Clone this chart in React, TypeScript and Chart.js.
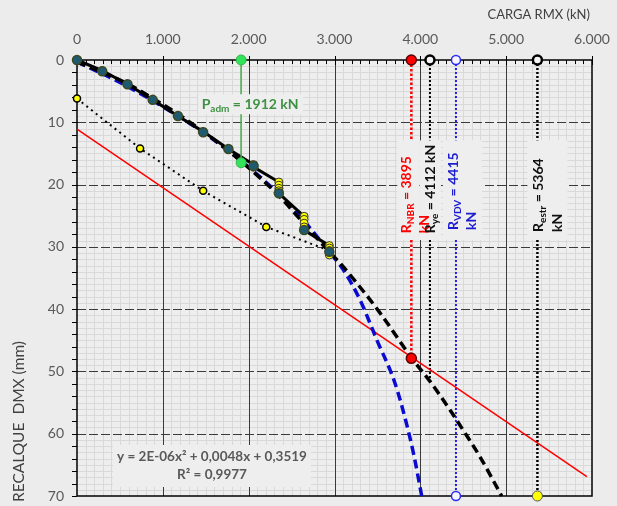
import React, { useEffect, useRef } from 'react';
import { Chart, registerables } from 'chart.js';
Chart.register(...registerables);

const FONT = 'Lato, "Open Sans", sans-serif';
const PAGE_BG = '#ececec';

// ---- tick labels ----
const xTickLabels = ['0', '1.000', '2.000', '3.000', '4.000', '5.000', '6.000'];
const yTickLabels = ['0', '10', '20', '30', '40', '50', '60', '70'];

// ---- load test readings (kN, mm) ----
const readingLoads = [0, 294, 588, 882, 1176, 1470, 1764, 2058, 2058, 2352, 2352, 2352, 2352, 2352, 2646, 2646, 2646, 2646, 2646, 2940, 2940, 2940, 2940, 2940];
const readingSettlements = [0, 1.7, 3.9, 6.4, 9.0, 11.5, 14.3, 16.8, 17.2, 19.6, 20.1, 20.6, 21.0, 21.4, 25.1, 25.6, 26.2, 26.8, 27.3, 29.8, 30.2, 30.6, 31.0, 31.3];

// ---- stage end points ----
const stageLoads = [0, 294, 588, 882, 1176, 1470, 1764, 2058, 2352, 2646, 2940];
const stageSettlements = [0, 1.8, 3.9, 6.4, 9.0, 11.6, 14.3, 17.0, 21.4, 27.3, 30.8];

// ---- elastic (dotted) line ----
const elasticLoads = [0, 735, 1470, 2205, 2940];
const elasticSettlements = [6.2, 14.2, 21.0, 26.8, 30.6];

// ---- NBR straight line ----
const nbrLoads = [0, 5940];
const nbrSettlements = [11.1, 66.9];

// ---- quadratic fit curve (black dashed) ----
const fitLoads = [0, 300, 600, 900, 1200, 1500, 1800, 2058, 2352, 2646, 2940, 3064, 3259, 3530, 3918, 4113, 4346, 4521, 4695, 4948];
const fitSettlements = [0.35, 2.0, 3.9, 6.3, 8.9, 11.8, 15.0, 18.0, 21.8, 26.3, 30.8, 32.6, 35.8, 40.6, 48.2, 51.6, 56.2, 59.9, 63.7, 70];

// ---- Van der Veen curve (blue dashed) ----
const vdvLoads = [0, 500, 1000, 1500, 2000, 2500, 2940, 3103, 3297, 3492, 3705, 3841, 3930, 4016];
const vdvSettlements = [0.3, 3.6, 7.5, 11.9, 17.2, 23.6, 30.8, 33.7, 38.5, 44.9, 51.9, 58.5, 63.8, 70];

// ---- reference loads ----
const pAdm = 1912;
const pAdmSettlement = 16.5;
const rNbr = 3895;
const rNbrSettlement = 47.9;
const rYe = 4112;
const rYeSettlement = 51.6;
const rVdv = 4415;
const rEstr = 5364;
const yMax = 70;

const eqLine1 = 'y = 2E-06x² + 0,0048x + 0,3519';
const eqLine2 = 'R² = 0,9977';

const pts = (xs: number[], ys: number[]) => xs.map((x, i) => ({ x, y: ys[i] }));

type Seg = { t: string; sub?: boolean };

function drawRich(ctx: CanvasRenderingContext2D, segs: Seg[], x: number, y: number, size: number, color: string, align: 'left' | 'center') {
  const main = `bold ${size}px ${FONT}`;
  const small = `bold ${Math.round(size * 0.68)}px ${FONT}`;
  let w = 0;
  for (const s of segs) {
    ctx.font = s.sub ? small : main;
    w += ctx.measureText(s.t).width;
  }
  let cx = align === 'center' ? x - w / 2 : x;
  ctx.fillStyle = color;
  ctx.textBaseline = 'middle';
  ctx.textAlign = 'left';
  for (const s of segs) {
    ctx.font = s.sub ? small : main;
    ctx.fillText(s.t, cx, y + (s.sub ? size * 0.3 : 0));
    cx += ctx.measureText(s.t).width;
  }
  return w;
}

function drawRotated(ctx: CanvasRenderingContext2D, lines: Seg[][], cxs: number[], startY: number, size: number, color: string) {
  lines.forEach((segs, i) => {
    ctx.save();
    ctx.translate(cxs[i], startY);
    ctx.rotate(-Math.PI / 2);
    drawRich(ctx, segs, 0, 0, size, color, 'left');
    ctx.restore();
  });
}

const customPlugin = {
  id: 'customDecor',
  beforeDraw(chart: any) {
    const ctx = chart.ctx as CanvasRenderingContext2D;
    ctx.save();
    ctx.fillStyle = PAGE_BG;
    ctx.fillRect(0, 0, chart.width, chart.height);
    ctx.restore();
  },
  beforeDatasetsDraw(chart: any) {
    const ctx = chart.ctx as CanvasRenderingContext2D;
    const a = chart.chartArea;
    const xs = chart.scales.x;
    const ys = chart.scales.y;
    ctx.save();
    ctx.fillStyle = '#eeeeee';
    ctx.fillRect(a.left, a.top, a.right - a.left, a.bottom - a.top);
    // minor grid
    ctx.strokeStyle = '#d9d9d9';
    ctx.lineWidth = 1;
    ctx.beginPath();
    for (let v = 100; v < 6000; v += 100) {
      if (v % 1000 === 0) continue;
      const px = Math.round(xs.getPixelForValue(v)) + 0.5;
      ctx.moveTo(px, a.top);
      ctx.lineTo(px, a.bottom);
    }
    for (let v = 1; v < 70; v += 1) {
      if (v % 10 === 0) continue;
      const py = Math.round(ys.getPixelForValue(v)) + 0.5;
      ctx.moveTo(a.left, py);
      ctx.lineTo(a.right, py);
    }
    ctx.stroke();
    // major vertical
    ctx.strokeStyle = '#3a3a3a';
    ctx.lineWidth = 1;
    ctx.beginPath();
    for (let v = 1000; v < 6000; v += 1000) {
      const px = Math.round(xs.getPixelForValue(v)) + 0.5;
      ctx.moveTo(px, a.top);
      ctx.lineTo(px, a.bottom);
    }
    ctx.stroke();
    // major horizontal dashed
    ctx.setLineDash([9, 3]);
    ctx.lineWidth = 1.2;
    ctx.beginPath();
    for (let v = 10; v < 70; v += 10) {
      const py = Math.round(ys.getPixelForValue(v)) + 0.5;
      ctx.moveTo(a.left, py);
      ctx.lineTo(a.right, py);
    }
    ctx.stroke();
    ctx.setLineDash([]);
    // frame
    ctx.strokeStyle = '#000';
    ctx.lineWidth = 1.5;
    ctx.strokeRect(a.left, a.top, a.right - a.left, a.bottom - a.top);
    // ticks
    ctx.lineWidth = 1;
    ctx.beginPath();
    for (let v = 0; v <= 6000; v += 100) {
      const px = Math.round(xs.getPixelForValue(v)) + 0.5;
      const major = v % 1000 === 0;
      ctx.moveTo(px, a.top - (major ? 4 : 0));
      ctx.lineTo(px, a.top + (major ? 5 : 4));
    }
    for (let v = 0; v <= 70; v += 2) {
      const py = Math.round(ys.getPixelForValue(v)) + 0.5;
      ctx.moveTo(a.left - 5, py);
      ctx.lineTo(a.left, py);
    }
    ctx.stroke();
    ctx.restore();
  },
  afterDatasetsDraw(chart: any) {
    const ctx = chart.ctx as CanvasRenderingContext2D;
    const xs = chart.scales.x;
    const ys = chart.scales.y;
    const box = '#eeeeee';
    ctx.save();
    // P_adm label
    const gx = xs.getPixelForValue(pAdm);
    const gy = ys.getPixelForValue(7.1);
    ctx.fillStyle = box;
    ctx.fillRect(gx - 43, gy - 10, 105, 20);
    drawRich(ctx, [{ t: 'P' }, { t: 'adm', sub: true }, { t: ` = ${pAdm} kN` }], gx + 9, gy, 14, '#3f9142', 'center');

    // rotated labels
    const top = ys.getPixelForValue(12.9);
    const bot = ys.getPixelForValue(28.9);
    const xN = xs.getPixelForValue(rNbr);
    const xY = xs.getPixelForValue(rYe);
    const xV = xs.getPixelForValue(rVdv);
    const xE = xs.getPixelForValue(rEstr);
    ctx.fillStyle = box;
    ctx.fillRect(xN - 14, top, 22, bot - top);
    ctx.fillRect(xY - 10, top, 21, bot - top);
    ctx.fillRect(xV - 13, top, 39, bot - top);
    ctx.fillRect(xE - 10, top, 40, bot - top);
    const sy = ys.getPixelForValue(27.8);
    drawRotated(ctx, [[{ t: 'R' }, { t: 'NBR', sub: true }, { t: ` = ${rNbr}` }], [{ t: 'kN' }]], [xN - 5, xN + 13], sy, 14, '#ff0000');
    drawRotated(ctx, [[{ t: 'R' }, { t: 'ye', sub: true }, { t: ` = ${rYe} kN` }]], [xY + 1], sy, 14, '#111111');
    drawRotated(ctx, [[{ t: 'R' }, { t: 'VDV', sub: true }, { t: ` = ${rVdv}` }], [{ t: 'kN' }]], [xV - 2, xV + 16], ys.getPixelForValue(27.3), 14, '#1c1cd0');
    drawRotated(ctx, [[{ t: 'R' }, { t: 'estr', sub: true }, { t: ` = ${rEstr}` }], [{ t: 'kN' }]], [xE + 1, xE + 20], ys.getPixelForValue(27.6), 14, '#111111');

    // equation box
    ctx.fillStyle = box;
    ctx.fillRect(113, 445, 198, 42);
    ctx.fillStyle = '#595959';
    ctx.font = `bold 13.5px ${FONT}`;
    ctx.textAlign = 'center';
    ctx.textBaseline = 'middle';
    ctx.fillText(eqLine1, 212, 457);
    ctx.fillText(eqLine2, 212, 475);
    ctx.restore();
  },
  afterDraw(chart: any) {
    const ctx = chart.ctx as CanvasRenderingContext2D;
    ctx.save();
    ctx.fillStyle = '#404040';
    ctx.font = `13px ${FONT}`;
    ctx.textBaseline = 'middle';
    ctx.textAlign = 'right';
    ctx.fillText('CARGA RMX (kN)', 590, 15);
    ctx.font = `15.5px ${FONT}`;
    ctx.translate(19, 502);
    ctx.rotate(-Math.PI / 2);
    ctx.textAlign = 'left';
    ctx.fillText('RECALQUE  DMX (mm)', 0, 0);
    ctx.restore();
  },
};

export default function App() {
  const ref = useRef<HTMLCanvasElement | null>(null);
  useEffect(() => {
    document.body.style.margin = '0';
    document.body.style.background = PAGE_BG;
    if (!ref.current) return;
    const common = { showLine: true, clip: false as any };
    const chart = new Chart(ref.current, {
      type: 'scatter',
      data: {
        datasets: [
          {
            ...common,
            data: [{ x: pAdm, y: 0 }, { x: pAdm, y: pAdmSettlement }],
            borderColor: '#44b04a', borderWidth: 1.5,
            pointRadius: 5, pointBackgroundColor: '#33e35a', pointBorderColor: '#2fb84a', pointBorderWidth: 1,
          },
          {
            ...common,
            data: [{ x: rNbr, y: 0 }, { x: rNbr, y: rNbrSettlement }],
            borderColor: '#ff0000', borderWidth: 2.5, borderDash: [2.5, 2],
            pointRadius: 5, pointBackgroundColor: '#ff0000', pointBorderColor: '#5a0000', pointBorderWidth: 1.5,
          },
          {
            ...common, showLine: false,
            data: pts(stageLoads, stageSettlements),
            pointRadius: 4.5, pointBackgroundColor: '#1f5a70', pointBorderColor: '#3c4a22', pointBorderWidth: 1.5,
          },
          {
            ...common,
            data: pts(readingLoads, readingSettlements),
            borderColor: '#000', borderWidth: 3, tension: 0,
            pointRadius: 4, pointBackgroundColor: '#ffff00', pointBorderColor: '#333', pointBorderWidth: 1,
          },
          {
            ...common,
            data: pts(fitLoads, fitSettlements),
            borderColor: '#000', borderWidth: 3.5, borderDash: [9, 5], cubicInterpolationMode: 'monotone',
            pointRadius: 0,
          },
          {
            ...common,
            data: pts(vdvLoads, vdvSettlements),
            borderColor: '#0a0ad0', borderWidth: 3.5, borderDash: [9, 5], cubicInterpolationMode: 'monotone',
            pointRadius: 0,
          },
          {
            ...common,
            data: pts(elasticLoads, elasticSettlements),
            borderColor: '#000', borderWidth: 2, borderDash: [2, 4],
            pointRadius: 3.5, pointBackgroundColor: '#ffff00', pointBorderColor: '#000', pointBorderWidth: 1.5,
          },
          {
            ...common,
            data: pts(nbrLoads, nbrSettlements),
            borderColor: '#ff0000', borderWidth: 1.5, pointRadius: 0,
          },
          {
            ...common,
            data: [{ x: rYe, y: 0 }, { x: rYe, y: rYeSettlement }],
            borderColor: '#000', borderWidth: 2, borderDash: [2, 2],
            pointRadius: [4.5, 0], pointBackgroundColor: '#f4f4f4', pointBorderColor: '#000', pointBorderWidth: 2.5,
          },
          {
            ...common,
            data: [{ x: rVdv, y: 0 }, { x: rVdv, y: yMax }],
            borderColor: '#1f1fe8', borderWidth: 2, borderDash: [2, 2],
            pointRadius: 4.5, pointBackgroundColor: '#f6f6ff', pointBorderColor: '#2b2bf0', pointBorderWidth: 1.5,
          },
          {
            ...common,
            data: [{ x: rEstr, y: 0 }, { x: rEstr, y: yMax }],
            borderColor: '#000', borderWidth: 2.5, borderDash: [2, 2],
            pointRadius: [4.5, 5], pointBackgroundColor: ['#f4f4f4', '#ffff00'], pointBorderColor: ['#000', '#555'],
            pointBorderWidth: [2.5, 1],
          },
        ] as any,
      },
      options: {
        animation: false,
        responsive: false,
        maintainAspectRatio: false,
        devicePixelRatio: 1,
        layout: { padding: { left: 0, right: 25, top: 0, bottom: 10 } },
        plugins: { legend: { display: false }, tooltip: { enabled: false } },
        scales: {
          x: {
            type: 'linear', position: 'top', min: 0, max: 6000,
            grid: { display: false, drawTicks: false },
            border: { display: false },
            ticks: {
              stepSize: 1000, padding: 12, color: '#595959', font: { family: FONT, size: 14 },
              callback: (v: any) => xTickLabels[Math.round(Number(v) / 1000)] ?? '',
            },
            afterFit: (s: any) => { s.height = 60; s.paddingLeft = 0; s.paddingRight = 0; },
          },
          y: {
            type: 'linear', reverse: true, min: 0, max: yMax,
            grid: { display: false, drawTicks: false },
            border: { display: false },
            ticks: {
              stepSize: 10, padding: 13, color: '#595959', font: { family: FONT, size: 14 },
              callback: (v: any) => yTickLabels[Math.round(Number(v) / 10)] ?? '',
            },
            afterFit: (s: any) => { s.width = 77; s.paddingTop = 0; s.paddingBottom = 0; },
          },
        },
      } as any,
      plugins: [customPlugin as any],
    });
    return () => chart.destroy();
  }, []);
  return (
    <div style={{ width: 617, height: 506 }}>
      <canvas ref={ref} width={617} height={506} style={{ display: 'block' }} />
    </div>
  );
}
